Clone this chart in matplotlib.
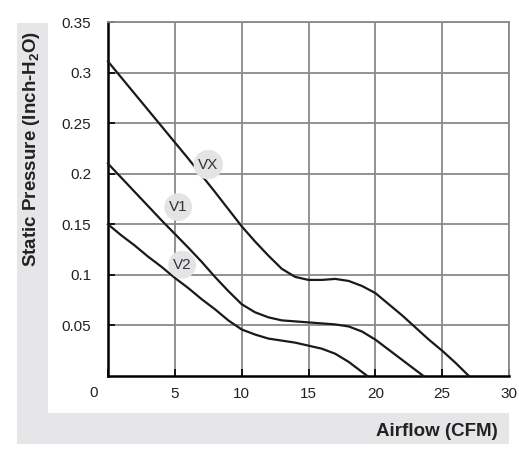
import matplotlib
matplotlib.use('Agg')
import matplotlib.pyplot as plt
from matplotlib.patches import Rectangle

plt.rcParams['font.family'] = ['Liberation Sans', 'DejaVu Sans']
plt.rcParams['mathtext.fontset'] = 'custom'
plt.rcParams['mathtext.rm'] = 'Liberation Sans'
plt.rcParams['mathtext.bf'] = 'Liberation Sans:bold'

# fan curves, airflow (CFM) vs static pressure (inch H2O)
vx_flow = [0, 2, 4, 6, 8, 10, 11, 12, 13, 14, 15, 16, 17, 18, 19, 20, 21, 22, 23, 24, 25, 26, 27]
vx_pres = [0.311, 0.279, 0.247, 0.215, 0.182, 0.148, 0.133, 0.119, 0.106, 0.098, 0.095, 0.095,
           0.096, 0.094, 0.089, 0.082, 0.071, 0.060, 0.048, 0.036, 0.025, 0.013, 0.0]

v1_flow = [0, 2, 4, 6, 7, 8, 9, 10, 11, 12, 13, 14, 15, 16, 17, 18, 19, 20, 21, 22, 23, 23.6]
v1_pres = [0.210, 0.182, 0.154, 0.127, 0.113, 0.098, 0.084, 0.071, 0.063, 0.058, 0.055, 0.054,
           0.053, 0.052, 0.051, 0.049, 0.044, 0.036, 0.026, 0.016, 0.006, 0.0]

v2_flow = [0, 1, 2, 3, 4, 5, 6, 7, 8, 9, 10, 11, 12, 13, 14, 15, 16, 17, 18, 19, 19.4]
v2_pres = [0.150, 0.139, 0.129, 0.118, 0.108, 0.097, 0.087, 0.076, 0.066, 0.055, 0.046, 0.041,
           0.037, 0.035, 0.033, 0.030, 0.027, 0.022, 0.014, 0.004, 0.0]

curve_names = ['VX', 'V1', 'V2']
label_pos = [(7.5, 0.209), (5.25, 0.167), (5.55, 0.110)]

x_ticks = [0, 5, 10, 15, 20, 25, 30]
y_ticks = [0.05, 0.1, 0.15, 0.2, 0.25, 0.3, 0.35]
y_labels = ['0.05', '0.1', '0.15', '0.2', '0.25', '0.3', '0.35']

fig = plt.figure(figsize=(5.19, 4.53), dpi=100)
W, H = 519, 453

# grey L-shaped band behind the axes
fig.patches.append(Rectangle((17 / W, 1 - 444 / H), 492 / W, 421 / H,
                             transform=fig.transFigure, fc='#e6e6e8', ec='none', zorder=-2))
fig.patches.append(Rectangle((48 / W, 1 - 413 / H), 461 / W, 390 / H,
                             transform=fig.transFigure, fc='white', ec='none', zorder=-1))

ax = fig.add_axes([108 / W, 1 - 376 / H, 401 / W, 354 / H])
ax.set_facecolor('none')

for xs, ys in [(vx_flow, vx_pres), (v1_flow, v1_pres), (v2_flow, v2_pres)]:
    ax.plot(xs, ys, color='#1a1a1a', lw=1.6, zorder=3, clip_on=False)

for name, (lx, ly) in zip(curve_names, label_pos):
    ax.text(lx, ly, name, ha='center', va='center', fontsize=11, color='#333333', zorder=4,
            bbox=dict(boxstyle='circle,pad=0.3', fc='#e4e4e6', ec='none'))

ax.set_xlim(0, 30)
ax.set_ylim(0, 0.35)
ax.set_xticks(x_ticks)
ax.set_xticklabels([''] + [str(t) for t in x_ticks[1:]])
ax.set_yticks(y_ticks)
ax.set_yticklabels(y_labels)
ax.tick_params(direction='in', length=5, width=1.2, color='black', labelsize=11,
               labelcolor='#222222')
ax.tick_params(axis='y', pad=12)
ax.tick_params(axis='x', pad=8)
ax.grid(True, color='#8a8a8a', lw=1.3, zorder=1)

for s in ['left', 'bottom']:
    ax.spines[s].set_color('black')
    ax.spines[s].set_linewidth(1.8)
for s in ['top', 'right']:
    ax.spines[s].set_color('#8a8a8a')
    ax.spines[s].set_linewidth(1.3)

# shared origin label
ax.annotate('0', xy=(0, 0), xytext=(-10, -12), textcoords='offset points',
            ha='center', va='center', fontsize=11, color='#222222')

fig.text(32 / W, 1 - 149 / H, 'Static Pressure (Inch-H$_\\mathbf{2}$O)', rotation=90,
         ha='center', va='center', fontsize=13.5, fontweight='bold', color='#222222')
fig.text(498 / W, 1 - 432 / H, 'Airflow (CFM)', ha='right', va='center',
         fontsize=13.5, fontweight='bold', color='#222222')

fig.savefig('out.png', dpi=100)
